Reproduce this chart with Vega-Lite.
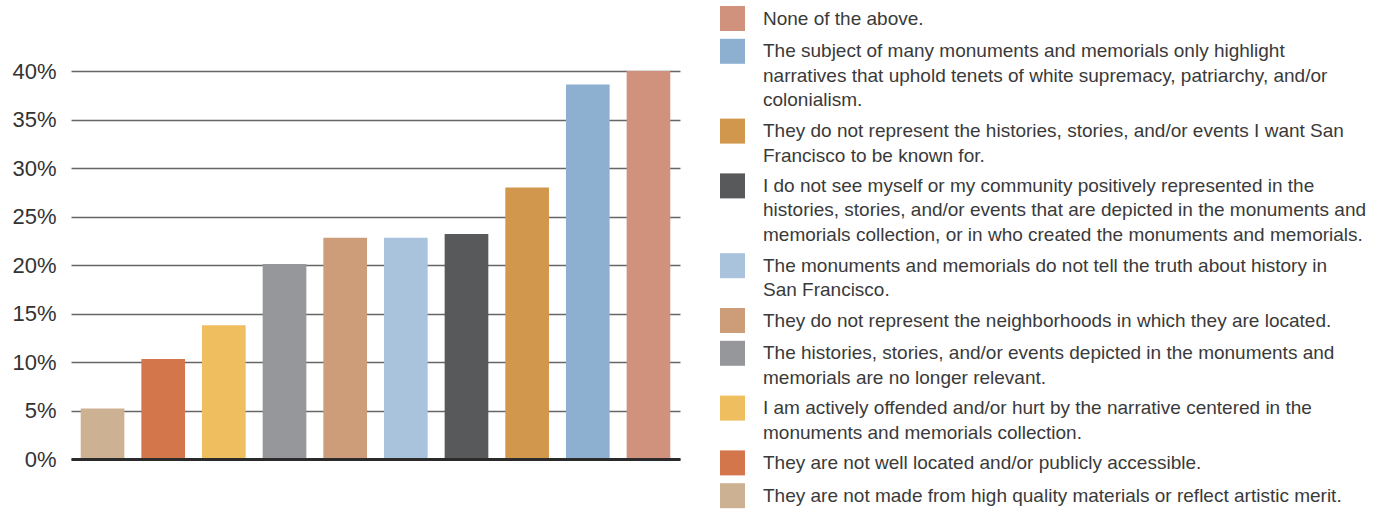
{
  "$schema": "https://vega.github.io/schema/vega-lite/v6.json",
  "width": 609,
  "height": 388,
  "autosize": {"type": "none"},
  "padding": {"left": 71, "top": 71, "right": 701, "bottom": 51},
  "background": "white",
  "config": {"view": {"stroke": null}, "font": "Liberation Sans"},
  "data": {"values": [
    {"answer": "They are not made from high quality materials or reflect artistic merit.", "pct": 5.2},
    {"answer": "They are not well located and/or publicly accessible.", "pct": 10.3},
    {"answer": "I am actively offended and/or hurt by the narrative centered in the|monuments and memorials collection.", "pct": 13.8},
    {"answer": "The histories, stories, and/or events depicted in the monuments and|memorials are no longer relevant.", "pct": 20.1},
    {"answer": "They do not represent the neighborhoods in which they are located.", "pct": 22.8},
    {"answer": "The monuments and memorials do not tell the truth about history in|San Francisco.", "pct": 22.8},
    {"answer": "I do not see myself or my community positively represented in the|histories, stories, and/or events that are depicted in the monuments and|memorials collection, or in who created the monuments and memorials.", "pct": 23.2},
    {"answer": "They do not represent the histories, stories, and/or events I want San|Francisco to be known for.", "pct": 28.0},
    {"answer": "The subject of many monuments and memorials only highlight|narratives that uphold tenets of white supremacy, patriarchy, and/or|colonialism.", "pct": 38.6},
    {"answer": "None of the above.", "pct": 40.0}
  ]},
  "mark": {"type": "bar"},
  "encoding": {
    "x": {
      "field": "answer", "type": "nominal",
      "sort": [
        "They are not made from high quality materials or reflect artistic merit.",
        "They are not well located and/or publicly accessible.",
        "I am actively offended and/or hurt by the narrative centered in the|monuments and memorials collection.",
        "The histories, stories, and/or events depicted in the monuments and|memorials are no longer relevant.",
        "They do not represent the neighborhoods in which they are located.",
        "The monuments and memorials do not tell the truth about history in|San Francisco.",
        "I do not see myself or my community positively represented in the|histories, stories, and/or events that are depicted in the monuments and|memorials collection, or in who created the monuments and memorials.",
        "They do not represent the histories, stories, and/or events I want San|Francisco to be known for.",
        "The subject of many monuments and memorials only highlight|narratives that uphold tenets of white supremacy, patriarchy, and/or|colonialism.",
        "None of the above."
      ],
      "scale": {"paddingInner": 0.28, "paddingOuter": 0.16},
      "axis": {"title": null, "labels": false, "ticks": false, "grid": false, "domain": true, "domainColor": "#2b2b2b", "domainWidth": 3, "zindex": 1}
    },
    "y": {
      "field": "pct", "type": "quantitative",
      "scale": {"domain": [0, 40]},
      "axis": {"title": null, "values": [0, 5, 10, 15, 20, 25, 30, 35, 40], "labelExpr": "datum.value + '%'", "ticks": false, "domain": false, "grid": true, "gridColor": "#666666", "gridWidth": 1.4, "labelFontSize": 22, "labelColor": "#333333", "labelPadding": 15}
    },
    "color": {
      "field": "answer", "type": "nominal",
      "scale": {
        "domain": [
          "None of the above.",
          "The subject of many monuments and memorials only highlight|narratives that uphold tenets of white supremacy, patriarchy, and/or|colonialism.",
          "They do not represent the histories, stories, and/or events I want San|Francisco to be known for.",
          "I do not see myself or my community positively represented in the|histories, stories, and/or events that are depicted in the monuments and|memorials collection, or in who created the monuments and memorials.",
          "The monuments and memorials do not tell the truth about history in|San Francisco.",
          "They do not represent the neighborhoods in which they are located.",
          "The histories, stories, and/or events depicted in the monuments and|memorials are no longer relevant.",
          "I am actively offended and/or hurt by the narrative centered in the|monuments and memorials collection.",
          "They are not well located and/or publicly accessible.",
          "They are not made from high quality materials or reflect artistic merit."
        ],
        "range": ["#D1927D", "#8DB0D1", "#D1984D", "#58595B", "#A9C3DD", "#CD9C78", "#96979B", "#EFBE5F", "#D4764B", "#CDB193"]
      },
      "legend": {
        "orient": "none", "legendX": 649, "legendY": -65,
        "title": null, "symbolType": "square", "symbolSize": 625, "symbolStrokeWidth": 0, "symbolOpacity": 1,
        "labelFontSize": 19, "labelColor": "#3a3a3a", "labelOffset": 18, "labelLimit": 700,
        "rowPadding": 7.8, "labelBaseline": "alphabetic",
        "labelExpr": "split(datum.label, '|')",
        "encode": {"labels": {"update": {"dy": {"value": 6}, "lineHeight": {"value": 24.5}}}}
      }
    }
  }
}
